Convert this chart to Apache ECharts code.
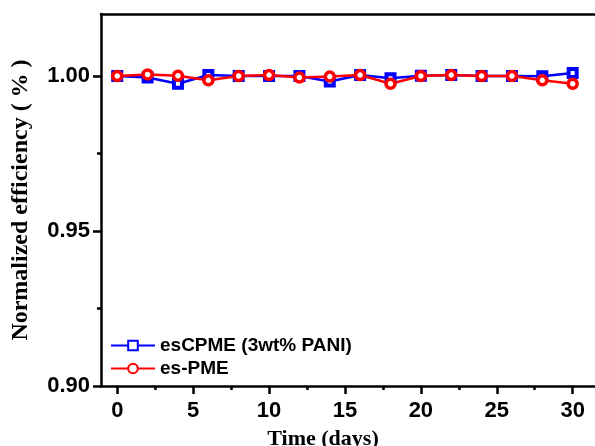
<!DOCTYPE html>
<html>
<head>
<meta charset="utf-8">
<script src="https://cdn.jsdelivr.net/npm/echarts@6/dist/echarts.min.js"></script>
<style>
  html, body { margin: 0; padding: 0; background: #fff; }
  #chart { width: 595px; height: 446px; }
</style>
</head>
<body>
<div id="chart"></div>
<script>
// data
const days = [0, 2, 4, 6, 8, 10, 12, 14, 16, 18, 20, 22, 24, 26, 28, 30]
const esCPME = [1.000, 0.9995, 0.9975, 1.0003, 1.000, 1.000, 1.000, 0.9982, 1.0003, 0.9993, 1.0001, 1.0003, 1.000, 1.000, 0.9999, 1.001]
const esPME = [1.000, 1.0005, 1.0001, 0.9986, 1.000, 1.0003, 0.9995, 0.9998, 1.0003, 0.9975, 1.000, 1.0003, 1.000, 1.000, 0.9986, 0.9975]
const xMajor = [0, 5, 10, 15, 20, 25, 30]
const xMinor = [2.5, 7.5, 12.5, 17.5, 22.5, 27.5]
const yMajor = [0.90, 0.95, 1.00]
const yMinor = [0.925, 0.975]

const chart = echarts.init(document.getElementById('chart'))

const sans = 'Liberation Sans, Arial, sans-serif'
const serif = 'Liberation Serif, Times New Roman, serif'
const axisLine = { show: true, onZero: false, lineStyle: { color: '#000', width: 2.5 } }
const noLine = { show: false, onZero: false }
const xRange = { min: -1.07, max: 31.47 }
const yRange = { min: 0.90, max: 1.02 }

const pair = (xs, ys) => xs.map((x, i) => [x, ys[i]])

const option = {
  animation: false,
  grid: { left: 101, top: 14, right: 0, bottom: 60, outerBoundsMode: 'none' },
  legend: {
    orient: 'vertical',
    left: 110,
    top: 336,
    padding: 0,
    itemWidth: 44,
    itemHeight: 12,
    itemGap: 4,
    textStyle: { fontFamily: sans, fontSize: 19, fontWeight: 'bold', color: '#000' },
    data: ['esCPME (3wt% PANI)', 'es-PME']
  },
  xAxis: [
    {
      type: 'value', position: 'bottom', ...xRange,
      name: 'Time (days)',
      nameLocation: 'middle',
      nameGap: 42,
      nameTextStyle: { fontFamily: serif, fontSize: 22, fontWeight: 'bold', color: '#000', padding: [0, 50, 0, 0] },
      axisLine,
      axisTick: { show: true, customValues: xMajor, length: 8, lineStyle: { width: 2.5, color: '#000' } },
      axisLabel: { customValues: xMajor, margin: 14, fontFamily: sans, fontSize: 22, fontWeight: 'bold', color: '#000' },
      splitLine: { show: false }
    },
    {
      type: 'value', position: 'bottom', ...xRange,
      axisLine: noLine,
      axisTick: { show: true, customValues: xMinor, length: 4, lineStyle: { width: 2.5, color: '#000' } },
      axisLabel: { show: false },
      splitLine: { show: false }
    },
    {
      type: 'value', position: 'top', ...xRange,
      axisLine,
      axisTick: { show: false },
      axisLabel: { show: false },
      splitLine: { show: false }
    }
  ],
  yAxis: [
    {
      type: 'value', position: 'left', ...yRange,
      name: 'Normalized efficiency ( % )',
      nameLocation: 'middle',
      nameGap: 68,
      nameTextStyle: { fontFamily: serif, fontSize: 24, fontWeight: 'bold', color: '#000' },
      axisLine,
      axisTick: { show: true, customValues: yMajor, length: 8, lineStyle: { width: 2.5, color: '#000' } },
      axisLabel: {
        customValues: yMajor, margin: 11, fontFamily: sans, fontSize: 22, fontWeight: 'bold', color: '#000',
        formatter: v => v.toFixed(2)
      },
      splitLine: { show: false }
    },
    {
      type: 'value', position: 'left', ...yRange,
      axisLine: noLine,
      axisTick: { show: true, customValues: yMinor, length: 4, lineStyle: { width: 2.5, color: '#000' } },
      axisLabel: { show: false },
      splitLine: { show: false }
    }
  ],
  series: [
    {
      name: 'esCPME (3wt% PANI)',
      type: 'line',
      data: pair(days, esCPME),
      symbol: 'rect',
      symbolSize: 8,
      lineStyle: { color: '#0000ff', width: 2.5 },
      itemStyle: { color: '#fff', borderColor: '#0000ff', borderWidth: 4 }
    },
    {
      name: 'es-PME',
      type: 'line',
      data: pair(days, esPME),
      symbol: 'circle',
      symbolSize: 9,
      lineStyle: { color: '#ff0000', width: 2.5 },
      itemStyle: { color: '#fff', borderColor: '#ff0000', borderWidth: 3.5 }
    }
  ]
}

chart.setOption(option)
</script>
</body>
</html>
